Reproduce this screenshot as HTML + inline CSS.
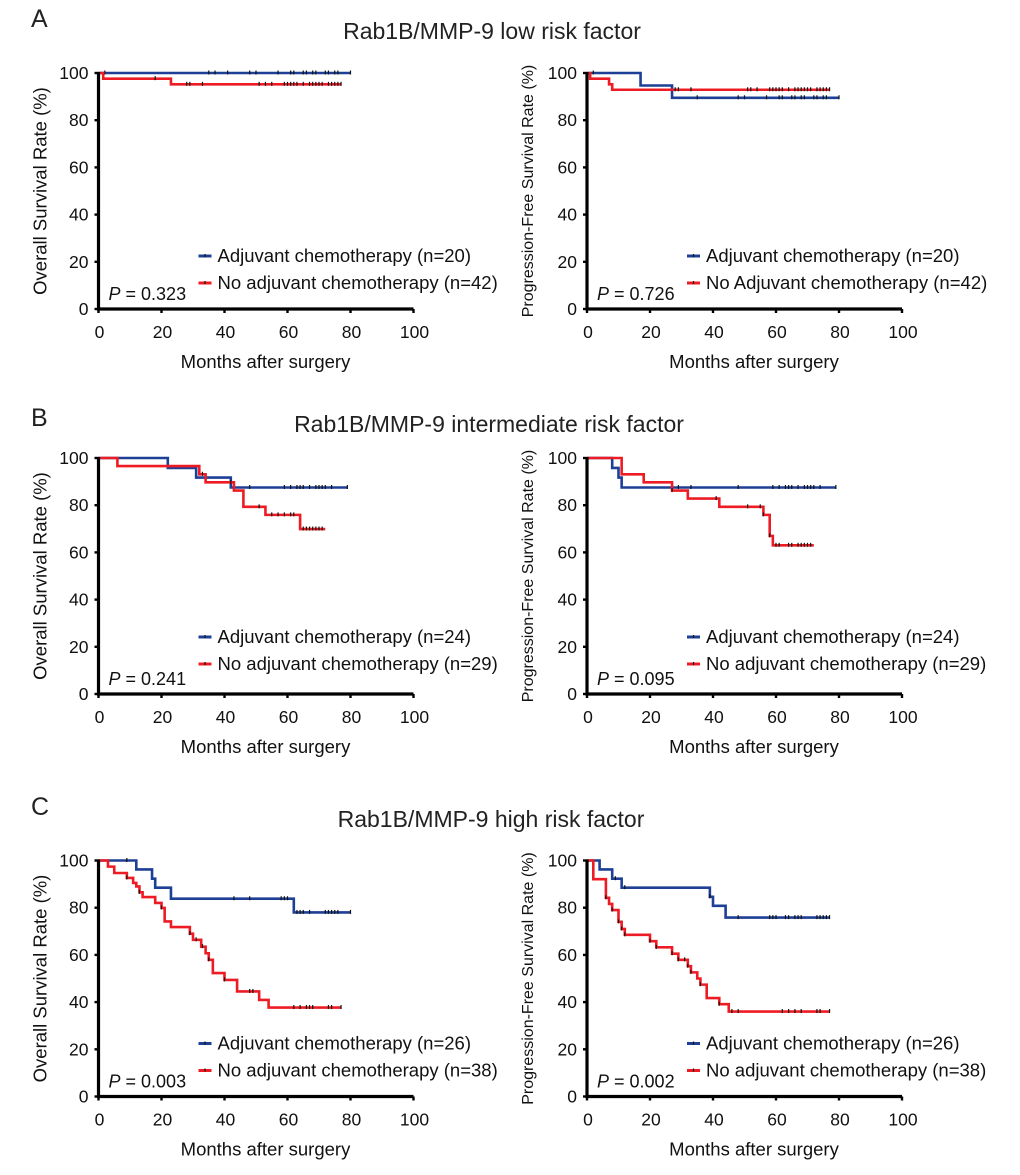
<!DOCTYPE html>
<html><head><meta charset="utf-8"><style>
html,body{margin:0;padding:0;background:#fff;}
svg{display:block;font-family:"Liberation Sans",Arial,sans-serif;}
</style></head><body>
<svg id="fig" width="1020" height="1175" viewBox="0 0 1020 1175">
<g font-size="25" fill="#222">
<text x="31" y="27">A</text>
<text x="31" y="426">B</text>
<text x="31" y="815">C</text>
</g>
<g font-size="23" fill="#222" text-anchor="middle">
<text x="492" y="39">Rab1B/MMP-9 low risk factor</text>
<text x="489" y="432">Rab1B/MMP-9 intermediate risk factor</text>
<text x="491" y="827">Rab1B/MMP-9 high risk factor</text>
</g>
</svg>
<script>
// ---- data (months / survival %) ----
const xTicks = [0, 20, 40, 60, 80, 100];
const yTicks = [0, 20, 40, 60, 80, 100];

// A left (OS, low risk)
const aOsBlueDropT = [];
const aOsBlueDropV = [];
const aOsBlueEnd = 80;
const aOsBlueCens = [2,35,37,41,48,50,57,61,62,65,66,68,69,72,73,75,76,80];
const aOsRedDropT = [1.5, 23];
const aOsRedDropV = [97.6, 95.2];
const aOsRedEnd = 77;
const aOsRedCens = [18,28,29,33,51,53,55,59,60,61,62,63,65,67,68,69,70,71,73,74,75,76,77];

// A right (PFS, low risk)
const aPfsBlueDropT = [17, 27];
const aPfsBlueDropV = [94.7, 89.5];
const aPfsBlueEnd = 80;
const aPfsBlueCens = [2,35,48,50,57,61,62,65,66,68,69,72,73,75,76,80];
const aPfsRedDropT = [1, 7, 8];
const aPfsRedDropV = [97.6, 95.2, 92.9];
const aPfsRedEnd = 77;
const aPfsRedCens = [28,29,33,51,52,54,58,59,60,61,62,64,66,67,68,69,70,71,73,74,75,76,77];

// B left (OS, intermediate)
const bOsBlueDropT = [22, 31, 42];
const bOsBlueDropV = [95.8, 91.7, 87.5];
const bOsBlueEnd = 79;
const bOsBlueCens = [48,59,61,63,64,65,67,69,70,71,72,74,79];
const bOsRedDropT = [6, 32, 34, 43, 46, 53, 64];
const bOsRedDropV = [96.6, 93.1, 89.7, 86.2, 79.3, 75.9, 69.9];
const bOsRedEnd = 72;
const bOsRedCens = [33,42,51,55,57,59,61,62,65,66,67,68,69,70,71];

// B right (PFS, intermediate)
const bPfsBlueDropT = [8, 10, 11];
const bPfsBlueDropV = [95.8, 91.7, 87.5];
const bPfsBlueEnd = 79;
const bPfsBlueCens = [29,33,48,59,61,63,64,65,67,69,70,71,72,74,79];
const bPfsRedDropT = [11, 18, 27, 32, 42, 56, 58, 59];
const bPfsRedDropV = [93.1, 89.7, 86.2, 82.8, 79.3, 75.9, 67, 63];
const bPfsRedEnd = 72;
const bPfsRedCens = [27,41,51,55,56,58,60,61,64,65,67,68,69,70,71];

// C left (OS, high risk)
const cOsBlueDropT = [12, 17, 18, 23, 62];
const cOsBlueDropV = [96.2, 92.3, 88.5, 83.8, 78];
const cOsBlueEnd = 80;
const cOsBlueCens = [9,43,48,58,59,60,63,64,65,67,72,73,74,75,76,80];
const cOsRedDropT = [3,5,9,11,12,13,14,18,20,21,23,29,30,32.6,34,35,36.3,40,44,51,54];
const cOsRedDropV = [97.4,94.7,92.6,90.5,89,86.5,84.5,82,79.9,74.2,71.8,69,66.4,63.5,60.7,57.9,52.3,49.4,44.5,40.9,37.7];
const cOsRedEnd = 77;
const cOsRedCens = [9,13,20,29,31,33,35,40,48,49,62,64,66,67,68,73,74,77];

// C right (PFS, high risk)
const cPfsBlueDropT = [4, 8, 11, 39, 40, 44];
const cPfsBlueDropV = [96.2, 92.3, 88.5, 84.6, 80.8, 75.8];
const cPfsBlueEnd = 77;
const cPfsBlueCens = [9,12,39,48,58,59,60,63,64,66,67,68,73,74,75,76,77];
const cPfsRedDropT = [2,6,7,8,10,11,12,20,22,27,29,32,33,35,36,38,42,45];
const cPfsRedDropV = [92.1,84.2,81.6,79,74,71,68.5,65.8,63.2,60.5,57.9,55.2,52.6,50,47.4,41.7,39.1,36];
const cPfsRedEnd = 77;
const cPfsRedCens = [6,8,10,11,12,20,22,27,29,31,32,33,36,42,46,48,62,64,66,68,73,74,77];

const pValues = ["0.323", "0.726", "0.241", "0.095", "0.003", "0.002"];

const BLUE = "#1d3f96", RED = "#ed1c24";
const NS = "http://www.w3.org/2000/svg";
const svg = document.getElementById("fig");
function mk(tag, attrs, parent) {
  const e = document.createElementNS(NS, tag);
  for (const k in attrs) e.setAttribute(k, attrs[k]);
  (parent || svg).appendChild(e);
  return e;
}

function valueAt(t, dropT, dropV) {
  let v = 100;
  for (let i = 0; i < dropT.length; i++) if (dropT[i] <= t) v = dropV[i];
  return v;
}

function drawChart(cfg) {
  const g = mk("g", {});
  
  
  const x0 = cfg.x0, y0 = cfg.y0, W = 315, H = 236;
  const sx = m => x0 + m / 100 * W;
  const sy = v => y0 - v / 100 * H;

  cfg.series.forEach(s => {
    let d = "M" + sx(0) + "," + sy(100);
    for (let i = 0; i < s.dropT.length; i++) {
      d += " H" + sx(s.dropT[i]) + " V" + sy(s.dropV[i]);
    }
    d += " H" + sx(s.end);
    const p = mk("path", {d: d, fill: "none", stroke: s.color, "stroke-width": 2.6, "stroke-linejoin": "miter"}, g);
    
    
    s.cens.forEach(t => {
      const vv = valueAt(t, s.dropT, s.dropV);
      const c = mk("line", {x1: sx(t), x2: sx(t), y1: sy(vv) - 2.5, y2: sy(vv) + 1.5, stroke: "#111", "stroke-width": 1.2}, g);
      
      
    });
  });

  const ax = mk("path", {d: "M" + x0 + "," + (sy(100) - 1) + " V" + y0 + " H" + (x0 + W), fill: "none", stroke: "#000", "stroke-width": 3.2}, g);
  
  
  xTicks.forEach(t => {
    const tk = mk("line", {x1: sx(t), x2: sx(t), y1: y0, y2: y0 + 4, stroke: "#000", "stroke-width": 2.4}, g);
    
    
    const lb = mk("text", {x: sx(t) + 1, y: y0 + 29, "font-size": 17.5, "text-anchor": "middle", fill: "#111"}, g);
    lb.textContent = t;
    
    
  });
  yTicks.forEach(t => {
    const tk = mk("line", {x1: x0 - 4, x2: x0, y1: sy(t), y2: sy(t), stroke: "#000", "stroke-width": 2.4}, g);
    
    
    const lb = mk("text", {x: x0 - 10, y: sy(t) + 6, "font-size": 17.5, "text-anchor": "end", fill: "#111"}, g);
    lb.textContent = t;
    
    
  });
  const xt = mk("text", {x: x0 + 167, y: y0 + 59, "font-size": 18.5, "text-anchor": "middle", fill: "#111"}, g);
  xt.textContent = "Months after surgery";
  
  
  const yc = y0 - H / 2;
  const ytx = x0 - cfg.yTitleOff;
  const yt = mk("text", {x: ytx, y: yc, "font-size": cfg.yTitleSize, "text-anchor": "middle", fill: "#111",
    transform: "rotate(-90 " + ytx + " " + yc + ") translate(0 6)"}, g);
  yt.textContent = cfg.yTitle;
  
  

  const pt = mk("text", {x: x0 + 10, y: y0 - 9, "font-size": 18, fill: "#111"}, g);
  pt.innerHTML = '<tspan font-style="italic">P</tspan> = ' + cfg.p;
  
  

  cfg.series.forEach((s, i) => {
    const ly = y0 - cfg.legOff[i];
    const lg = mk("g", {}, g);
    
    
    mk("line", {x1: x0 + 100, x2: x0 + 113, y1: ly - 6, y2: ly - 6, stroke: s.color, "stroke-width": 3}, lg);
    mk("line", {x1: x0 + 106.5, x2: x0 + 106.5, y1: ly - 8, y2: ly - 5, stroke: "#111", "stroke-width": 1.2}, lg);
    const lt = mk("text", {x: x0 + 119, y: ly, "font-size": 18.5, fill: "#111"}, lg);
    lt.textContent = s.label;
  });
}

const OS = "Overall Survival Rate (%)", PFS = "Progression-Free Survival Rate (%)";
const L = {yTitle: OS, yTitleOff: 58, yTitleSize: 18.5};
const R = {yTitle: PFS, yTitleOff: 60, yTitleSize: 16};

drawChart(Object.assign({name: "chart-a-os", x0: 98.5, y0: 309, p: pValues[0], legOff: [47, 20], series: [
  {name: "adjuvant", color: BLUE, dropT: aOsBlueDropT, dropV: aOsBlueDropV, end: aOsBlueEnd, cens: aOsBlueCens, label: "Adjuvant chemotherapy (n=20)"},
  {name: "no-adjuvant", color: RED, dropT: aOsRedDropT, dropV: aOsRedDropV, end: aOsRedEnd, cens: aOsRedCens, label: "No adjuvant chemotherapy (n=42)"}]}, L));
drawChart(Object.assign({name: "chart-a-pfs", x0: 587, y0: 309, p: pValues[1], legOff: [47, 20], series: [
  {name: "adjuvant", color: BLUE, dropT: aPfsBlueDropT, dropV: aPfsBlueDropV, end: aPfsBlueEnd, cens: aPfsBlueCens, label: "Adjuvant chemotherapy (n=20)"},
  {name: "no-adjuvant", color: RED, dropT: aPfsRedDropT, dropV: aPfsRedDropV, end: aPfsRedEnd, cens: aPfsRedCens, label: "No Adjuvant chemotherapy (n=42)"}]}, R));
drawChart(Object.assign({name: "chart-b-os", x0: 98.5, y0: 694, p: pValues[2], legOff: [51, 24], series: [
  {name: "adjuvant", color: BLUE, dropT: bOsBlueDropT, dropV: bOsBlueDropV, end: bOsBlueEnd, cens: bOsBlueCens, label: "Adjuvant chemotherapy (n=24)"},
  {name: "no-adjuvant", color: RED, dropT: bOsRedDropT, dropV: bOsRedDropV, end: bOsRedEnd, cens: bOsRedCens, label: "No adjuvant chemotherapy (n=29)"}]}, L));
drawChart(Object.assign({name: "chart-b-pfs", x0: 587, y0: 694, p: pValues[3], legOff: [51, 24], series: [
  {name: "adjuvant", color: BLUE, dropT: bPfsBlueDropT, dropV: bPfsBlueDropV, end: bPfsBlueEnd, cens: bPfsBlueCens, label: "Adjuvant chemotherapy (n=24)"},
  {name: "no-adjuvant", color: RED, dropT: bPfsRedDropT, dropV: bPfsRedDropV, end: bPfsRedEnd, cens: bPfsRedCens, label: "No adjuvant chemotherapy (n=29)"}]}, R));
drawChart(Object.assign({name: "chart-c-os", x0: 98.5, y0: 1096.5, p: pValues[4], legOff: [47, 20], series: [
  {name: "adjuvant", color: BLUE, dropT: cOsBlueDropT, dropV: cOsBlueDropV, end: cOsBlueEnd, cens: cOsBlueCens, label: "Adjuvant chemotherapy (n=26)"},
  {name: "no-adjuvant", color: RED, dropT: cOsRedDropT, dropV: cOsRedDropV, end: cOsRedEnd, cens: cOsRedCens, label: "No adjuvant chemotherapy (n=38)"}]}, L));
drawChart(Object.assign({name: "chart-c-pfs", x0: 587, y0: 1096.5, p: pValues[5], legOff: [47, 20], series: [
  {name: "adjuvant", color: BLUE, dropT: cPfsBlueDropT, dropV: cPfsBlueDropV, end: cPfsBlueEnd, cens: cPfsBlueCens, label: "Adjuvant chemotherapy (n=26)"},
  {name: "no-adjuvant", color: RED, dropT: cPfsRedDropT, dropV: cPfsRedDropV, end: cPfsRedEnd, cens: cPfsRedCens, label: "No adjuvant chemotherapy (n=38)"}]}, R));
</script>
</body></html>
